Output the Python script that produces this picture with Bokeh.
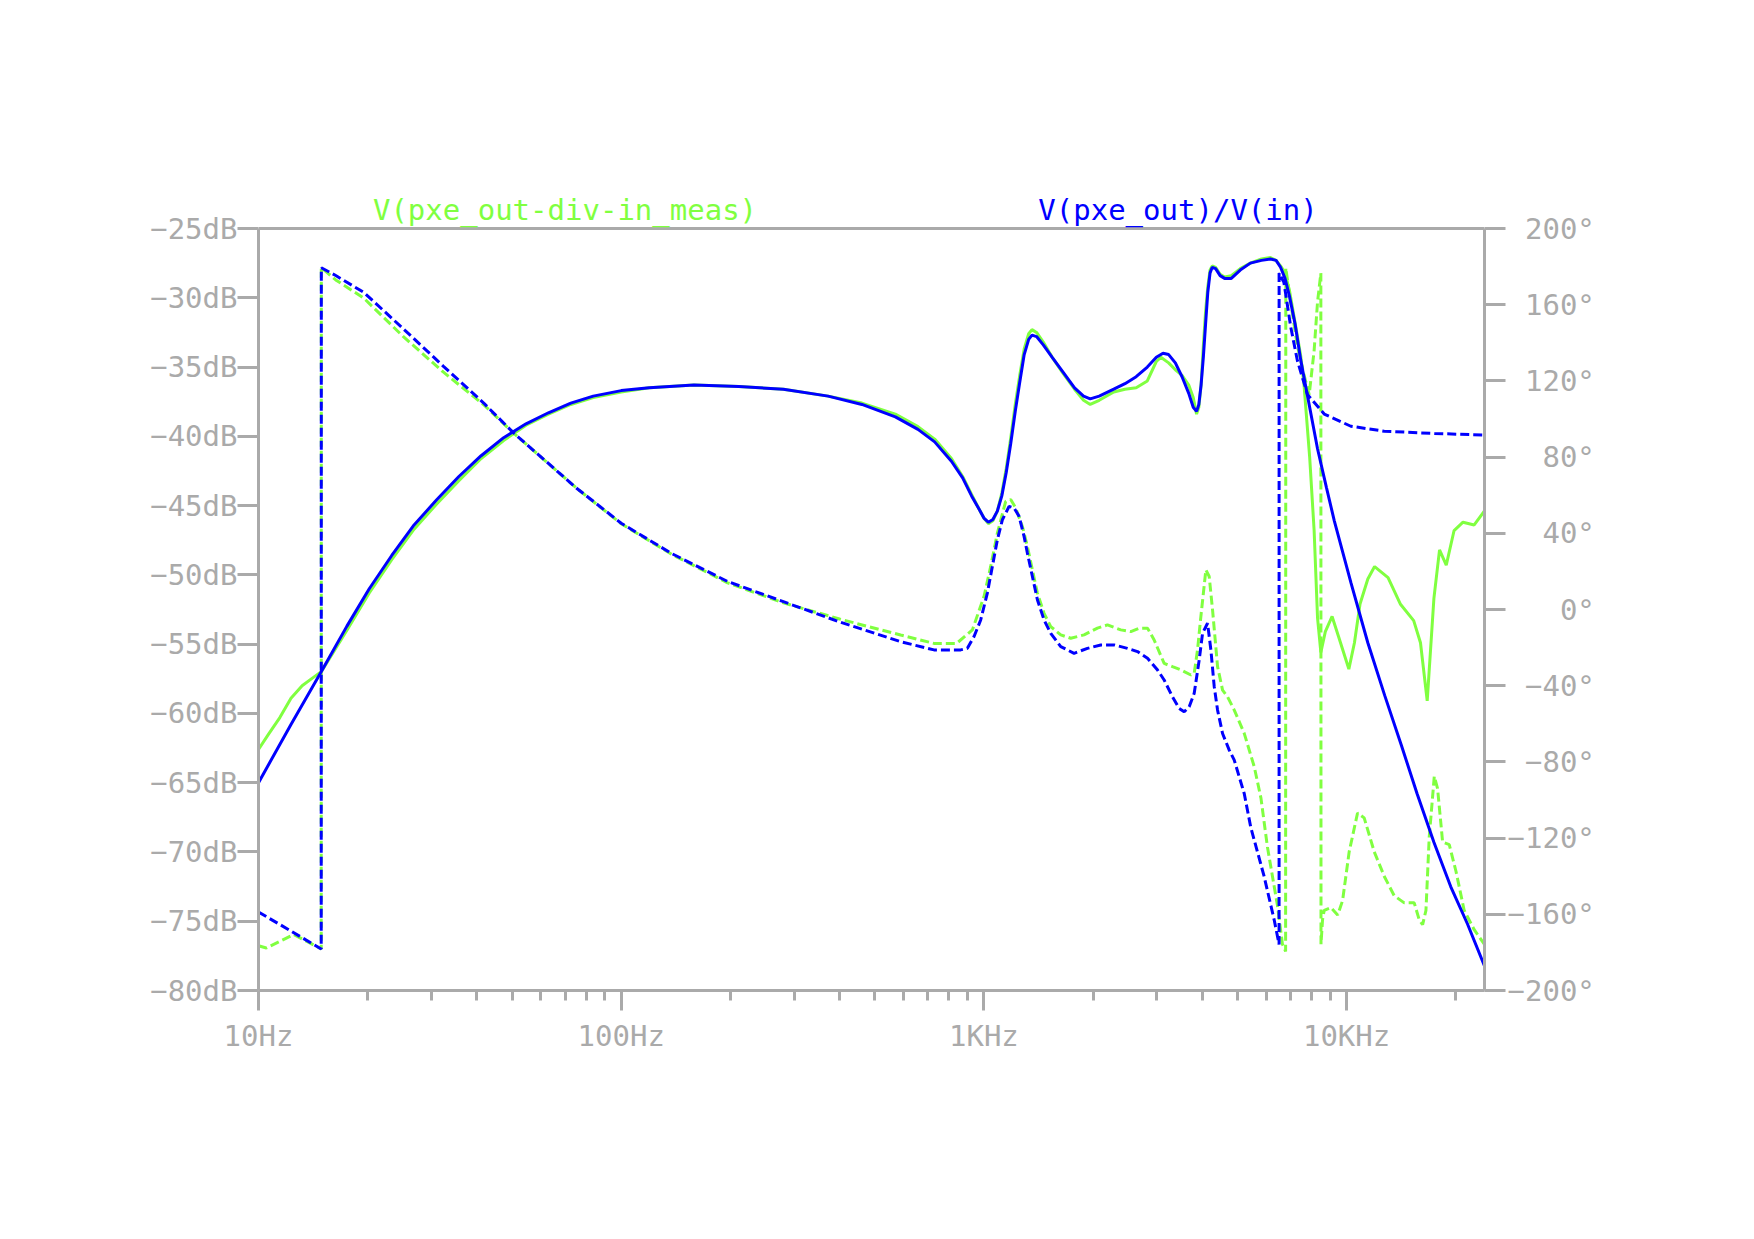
import math
from bokeh.plotting import figure
from bokeh.models import Range1d, LinearAxis, FixedTicker, CustomJSTickFormatter, Label, Span
from bokeh.embed import file_html
from bokeh.resources import INLINE

# ---------------- data ----------------
# V(pxe_out)/V(in): magnitude (dB)
blue_mag_f = [10, 12.29, 14.89, 17.53, 20.2, 23.30, 26.85, 30.95, 35.68, 41.1,
              47.41, 54.65, 63.0, 72.62, 83.72, 100, 119.5, 158.7, 211, 280,
              372, 461, 570, 658, 731.5, 813.7, 873.7, 924.7, 972, 1000,
              1028.7, 1058.5, 1089, 1120.5, 1152.7, 1186, 1220.3, 1255.5, 1291.5, 1328.8,
              1357, 1397, 1457.8, 1542.9, 1656.7, 1778, 1882.5, 1964, 2079.6, 2280.4,
              2448.8, 2629.5, 2822, 2988, 3118, 3231, 3372, 3518, 3671, 3777,
              3858, 3914, 3970, 4027, 4085, 4143, 4203, 4262, 4354, 4480,
              4609, 4810, 5091, 5428, 5826, 6166, 6391, 6575, 6764, 6960,
              7211, 7474, 7910, 8315, 8800, 9249, 10287, 11443, 12735, 14158,
              15646, 17407, 19364, 21544, 23967]
blue_mag_db = [-65.0, -60.8, -57.0, -53.7, -51.0, -48.6, -46.4, -44.6, -42.9, -41.4,
               -40.1, -39.1, -38.3, -37.6, -37.1, -36.7, -36.5, -36.3, -36.4, -36.6,
               -37.1, -37.7, -38.6, -39.5, -40.4, -41.8, -43.0, -44.3, -45.3, -45.9,
               -46.2, -46.0, -45.4, -44.3, -42.6, -40.5, -38.2, -36.1, -34.1, -33.0,
               -32.7, -32.8, -33.4, -34.3, -35.4, -36.5, -37.1, -37.3, -37.1, -36.6,
               -36.2, -35.7, -35.0, -34.3, -34.0, -34.1, -34.7, -35.7, -36.9, -37.9,
               -38.2, -37.7, -36.3, -34.3, -31.9, -29.6, -28.2, -27.8, -27.9, -28.4,
               -28.6, -28.6, -28.0, -27.5, -27.3, -27.2, -27.3, -27.8, -28.6, -29.9,
               -31.9, -34.5, -37.9, -40.9, -43.7, -46.1, -50.6, -54.9, -58.7, -62.3,
               -65.8, -69.3, -72.5, -75.2, -78.2]

# V(pxe_out)/V(in): phase (deg)
blue_ph_f = [10, 12.29, 14.89, 14.9, 16.33, 19.5, 25.0, 32.3, 41.7, 50.5,
             75.2, 100, 137.7, 196.5, 280, 399.9, 589.4, 728.5, 862.9, 900.4,
             939.4, 979.8, 1022.1, 1055.1, 1089.3, 1124.4, 1173.1, 1211, 1250.1, 1290.5,
             1318.1, 1360.6, 1404.5, 1465.3, 1528.7, 1629, 1772.8, 1929.5, 2099.9, 2285.6,
             2487.4, 2651.3, 2825.7, 3011.9, 3140.5, 3311.3, 3454.6, 3566.2, 3681.4, 3800.3,
             3923, 4007, 4136.4, 4225, 4315.5, 4407.9, 4550.3, 4747.3, 4900.6, 5220.9,
             5443, 5922, 6314, 6514, 6515, 6716, 7010, 7316, 7798, 8676,
             10273, 12697, 17448, 23967]
blue_ph_deg = [-158.8, -168.8, -178.2, 179.4, 175.3, 166.5, 147.6, 127.8, 108.5, 92.7,
               63.8, 45.3, 29.4, 14.7, 4.1, -6.5, -16.9, -21.2, -21.2, -20.4,
               -14.2, -5.5, 8.6, 22.6, 36.6, 47.1, 54.1, 53.3, 48.9, 38.4,
               29.6, 17.3, 5.1, -5.5, -12.5, -19.5, -23.0, -20.4, -18.6, -18.6,
               -20.4, -22.1, -25.6, -31.8, -37.0, -45.8, -51.9, -53.7, -51.0, -44.0,
               -26.5, -12.5, -7.2, -21.2, -40.5, -52.8, -65.1, -73.8, -79.1, -96.6,
               -114.4, -140.0, -162.9, -175.8, 176.6, 171.8, 148.6, 130.7, 112.9, 102.6,
               96.2, 93.6, 92.4, 91.6]

# V(pxe_out-div-in_meas): magnitude (dB)
green_mag_f = [10, 10.66, 11.45, 12.29, 13.19, 14.17, 14.89, 17.53, 20.2, 23.30,
               26.85, 30.95, 35.68, 41.1, 47.41, 54.65, 63.0, 72.62, 83.72, 100,
               119.5, 158.7, 211, 280, 372, 461, 570, 658, 731.5, 813.7,
               873.7, 924.7, 972, 1000, 1028.7, 1058.5, 1089, 1120.5, 1152.7, 1186,
               1220.3, 1255.5, 1291.5, 1328.8, 1357, 1397, 1457.8, 1542.9, 1656.7, 1778,
               1882.5, 1964, 2079.6, 2280.4, 2448.8, 2629.5, 2822, 2988, 3075, 3231,
               3372, 3518, 3671, 3777, 3858, 3914, 3970, 4027, 4085, 4143,
               4203, 4262, 4354, 4480, 4609, 4810, 5091, 5428, 5826, 6166,
               6391, 6575, 6764, 6960, 7211, 7474, 7632, 7910, 8137, 8315,
               8492, 8737, 9120, 9515, 10144, 10511, 10890, 11443, 11946, 13010,
               14060, 15310, 15985, 16683, 17407, 18041, 18826, 19785, 20941, 22480,
               23967]
green_mag_db = [-62.6, -61.5, -60.3, -58.9, -58.0, -57.4, -57.0, -54.0, -51.3, -48.9,
                -46.7, -44.9, -43.2, -41.6, -40.3, -39.2, -38.4, -37.7, -37.2, -36.8,
                -36.5, -36.3, -36.4, -36.6, -37.1, -37.6, -38.4, -39.3, -40.2, -41.6,
                -42.9, -44.2, -45.3, -45.9, -46.3, -46.1, -45.4, -44.1, -42.3, -40.1,
                -37.7, -35.6, -33.7, -32.6, -32.3, -32.5, -33.2, -34.3, -35.5, -36.6,
                -37.4, -37.7, -37.4, -36.8, -36.6, -36.5, -36.0, -34.6, -34.3, -34.7,
                -35.2, -35.6, -36.3, -37.2, -38.4, -37.9, -36.3, -33.5, -31.0, -29.2,
                -28.0, -27.7, -27.8, -28.3, -28.5, -28.4, -27.9, -27.5, -27.2, -27.1,
                -27.3, -27.7, -28.2, -29.5, -31.8, -34.2, -36.3, -41.5, -46.8, -53.1,
                -55.6, -54.1, -53.0, -54.5, -56.8, -54.9, -52.1, -50.3, -49.4, -50.2,
                -52.1, -53.3, -54.9, -59.1, -51.7, -48.2, -49.3, -46.8, -46.2, -46.4,
                -45.4]

# V(pxe_out-div-in_meas): phase (deg)
green_ph_f = [10, 10.51, 12.51, 14.89, 14.9, 16.33, 19.5, 25.0, 32.3, 41.7,
              50.5, 75.2, 100, 137.7, 196.5, 280, 399.9, 589.4, 728.5, 841.1,
              929.4, 1000.7, 1044, 1089.3, 1148.4, 1185.5, 1223.8, 1276.8, 1318.1, 1360.6,
              1404.5, 1465.3, 1528.7, 1629, 1735.6, 1889, 2056, 2191, 2384.7, 2541.6,
              2679.6, 2825.7, 2947.5, 3140.5, 3311.3, 3492.8, 3720.6, 3800.3, 3881.6, 3964.7,
              4092.7, 4180.3, 4269.8, 4407.9, 4550.3, 4696.2, 4900.6, 5220.9, 5565, 5806,
              6050, 6446, 6654, 6790, 6798, 7010, 7316, 7632, 7887, 8137,
              8315, 8492, 8500, 8583, 8676, 9053, 9447, 9748, 10165, 10720,
              11181, 11920, 12697, 13525, 14421, 15362, 15860, 16203, 16550, 16897,
              17448, 17818, 18397, 19187, 20023, 21091, 22480, 23967]
green_ph_deg = [-176.5, -177.7, -170.6, -178.2, 179.5, 173.0, 163.5, 143.5, 124.7, 107.6,
                92.6, 63.8, 45.0, 29.0, 14.0, 3.5, -5.0, -13.4, -17.8, -17.8,
                -10.7, 6.8, 22.6, 40.1, 56.8, 57.7, 53.3, 43.6, 33.1, 20.8,
                8.6, -2.0, -9.0, -13.3, -15.1, -13.3, -9.8, -8.1, -10.7, -11.6,
                -9.8, -9.8, -16.0, -28.3, -30.0, -31.7, -34.4, -33.5, -21.2, -3.7,
                20.8, 17.3, -0.2, -30.0, -42.3, -45.8, -52.8, -65.0, -82.6, -99.0,
                -124.7, -155.3, -175.7, -179.5, 179.2, 161.4, 138.4, 123.1, 112.8, 135.9,
                161.4, 176.6, -175.7, -162.9, -157.9, -156.5, -160.4, -152.8, -127.2, -106.8,
                -109.4, -127.2, -140.0, -150.2, -154.0, -154.0, -162.9, -165.5, -157.9, -119.5,
                -87.6, -94.0, -122.1, -123.4, -137.4, -157.9, -168.1, -175.7]

x_major = [10, 100, 1000, 10000]
x_minor = [20, 30, 40, 50, 60, 70, 80, 90,
           200, 300, 400, 500, 600, 700, 800, 900,
           2000, 3000, 4000, 5000, 6000, 7000, 8000, 9000, 20000]
db_ticks = [-80, -75, -70, -65, -60, -55, -50, -45, -40, -35, -30, -25]
deg_ticks = [-200, -160, -120, -80, -40, 0, 40, 80, 120, 160, 200]

title_green = "V(pxe_out-div-in_meas)"
title_blue = "V(pxe_out)/V(in)"

# ---------------- styling / layout ----------------
GRAY = "#aaaaaa"
GREEN = "#80ff40"
BLUE = "#0000ff"
FONT = "DejaVu Sans Mono"
FSIZE = "29px"

F_LO, F_HI = 10, 24000
DB_LO, DB_HI = -80, -25
PH_LO, PH_HI = -200, 200

W, H = 1738, 1223
LEFT, RIGHT = 258, 1484          # frame edges (px)
BOX_TOP, BOTTOM = 228, 990       # top of the plot box, bottom of frame (px)
FRAME_TOP = 170                  # frame extends above the box for the trace names
TITLE_BASE = 209                 # trace name anchor (px)

box_h = BOTTOM - BOX_TOP
db_per_px = (DB_HI - DB_LO) / box_h
ph_per_px = (PH_HI - PH_LO) / box_h
extra = BOX_TOP - FRAME_TOP

p = figure(width=W, height=H, x_axis_type="log",
           x_range=Range1d(F_LO, F_HI),
           y_range=Range1d(DB_LO, DB_HI + extra * db_per_px),
           output_backend="svg", toolbar_location=None,
           min_border_left=LEFT, min_border_right=W - RIGHT,
           min_border_top=FRAME_TOP, min_border_bottom=H - BOTTOM)
p.background_fill_color = "white"
p.border_fill_color = "white"
p.xgrid.visible = False
p.ygrid.visible = False
p.outline_line_color = None

p.extra_y_ranges = {"phase": Range1d(PH_LO, PH_HI + extra * ph_per_px)}
raxis = LinearAxis(y_range_name="phase")
p.add_layout(raxis, "right")

xaxis = p.xaxis[0]
yaxis = p.yaxis[0]

for ax in (xaxis, yaxis, raxis):
    ax.axis_line_color = GRAY
    ax.axis_line_width = 3
    ax.major_tick_line_color = GRAY
    ax.major_tick_line_width = 3
    ax.major_tick_in = 0
    ax.major_tick_out = 21
    ax.minor_tick_line_color = GRAY
    ax.minor_tick_line_width = 3
    ax.minor_tick_in = 0
    ax.minor_tick_out = 10
    ax.major_label_text_color = GRAY
    ax.major_label_text_font = FONT
    ax.major_label_text_font_size = FSIZE

xaxis.ticker = FixedTicker(ticks=x_major, minor_ticks=x_minor)
xaxis.major_tick_out = 20
xaxis.major_label_standoff = 8
xaxis.formatter = CustomJSTickFormatter(code="""
    if (tick >= 1000) { return (tick / 1000) + "KHz"; }
    return tick + "Hz";
""")

yaxis.ticker = FixedTicker(ticks=db_ticks)
yaxis.bounds = (DB_LO, DB_HI)
yaxis.minor_tick_line_color = None
yaxis.major_label_standoff = 0
yaxis.formatter = CustomJSTickFormatter(code="""
    var s = (tick < 0) ? "\u2212" + (-tick) : "" + tick;
    return s + "dB";
""")

raxis.ticker = FixedTicker(ticks=deg_ticks)
raxis.bounds = (PH_LO, PH_HI)
raxis.minor_tick_line_color = None
raxis.major_label_standoff = 2
raxis.formatter = CustomJSTickFormatter(code="""
    var s = ((tick < 0) ? "\u2212" + (-tick) : "" + tick) + "\u00b0";
    while (s.length < 5) { s = "\u00a0" + s; }
    return s;
""")

# top edge of the plot box
p.add_layout(Span(location=DB_HI, dimension="width", line_color=GRAY, line_width=3))

LW = 3
DASH = "9 4"

p.line(green_mag_f, green_mag_db, line_color=GREEN, line_width=LW)
p.line(green_ph_f, green_ph_deg, line_color=GREEN, line_width=LW,
       line_dash=DASH, y_range_name="phase")
p.line(blue_mag_f, blue_mag_db, line_color=BLUE, line_width=LW)
p.line(blue_ph_f, blue_ph_deg, line_color=BLUE, line_width=LW,
       line_dash=DASH, y_range_name="phase")

# trace names above the box, centred at 1/4 and 3/4 of the width
lo, hi = math.log10(F_LO), math.log10(F_HI)
y_title = DB_HI + (BOX_TOP - TITLE_BASE) * db_per_px
for frac, txt, col in ((0.25, title_green, GREEN), (0.75, title_blue, BLUE)):
    p.add_layout(Label(x=10 ** (lo + frac * (hi - lo)), y=y_title, text=txt,
                       text_color=col, text_font=FONT, text_font_size=FSIZE,
                       text_align="center", text_baseline="alphabetic"))

open("out.html", "w").write(file_html(p, INLINE))
